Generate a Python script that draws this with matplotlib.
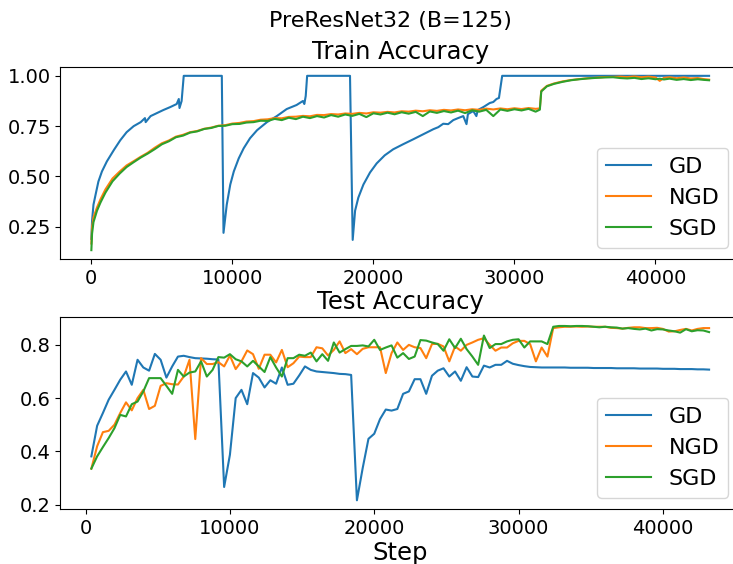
import matplotlib
matplotlib.use("Agg")
import matplotlib.pyplot as plt
import numpy as np

# ---- data ----
labels = ["GD", "NGD", "SGD"]

# train accuracy, GD (step, value)
gd_train_steps = [0, 50, 150, 300, 500, 750, 1100, 1600, 2050, 2500, 3000, 3500, 3800, 3850,
                  4200, 4650, 5100, 5600, 6050, 6200, 6250, 6400, 6550, 9250, 9370, 9600,
                  9850, 10100, 10450, 10800, 11250, 11750, 12450, 13150, 13850, 14550, 15000,
                  15100, 15200, 15300, 18340, 18530, 18700, 18930, 19290, 19760, 20230, 20800,
                  21400, 22100, 22830, 23540, 24250, 24600, 24950, 25300, 25660, 26000, 26370,
                  26600, 26700, 27080, 27300, 27400, 27800, 28250, 28500, 28730, 28900, 29130,
                  43800]
gd_train_acc = [0.19, 0.28, 0.36, 0.41, 0.475, 0.525, 0.575, 0.632, 0.68, 0.72, 0.75, 0.77,
                0.79, 0.77, 0.80, 0.815, 0.83, 0.845, 0.86, 0.885, 0.84, 0.875, 1.0, 1.0, 0.22,
                0.36, 0.46, 0.525, 0.59, 0.64, 0.69, 0.73, 0.77, 0.80, 0.835, 0.855, 0.875,
                0.86, 0.90, 1.0, 1.0, 0.185, 0.33, 0.395, 0.46, 0.52, 0.565, 0.605, 0.635,
                0.66, 0.685, 0.71, 0.735, 0.745, 0.762, 0.76, 0.78, 0.79, 0.80, 0.76, 0.81,
                0.825, 0.80, 0.83, 0.845, 0.865, 0.87, 0.885, 0.89, 1.0, 1.0]

# train accuracy, NGD / SGD (shared steps)
ns_train_steps = [0, 50, 150, 400, 650, 1000, 1500, 2000, 2500, 3000, 3500, 4000, 4500, 5000,
                  5500, 6000, 6500, 7000, 7500, 8000, 8500, 9000, 9500, 10000, 10500, 11000,
                  11500, 12000, 12500, 13000, 13500, 14000, 14500, 15000, 15500, 16000, 16500,
                  17000, 17500, 18000, 18500, 19000, 19500, 20000, 20500, 21000, 21500, 22000,
                  22500, 23000, 23500, 24000, 24500, 25000, 25500, 26000, 26500, 27000, 27500,
                  28000, 28500, 29000, 29500, 30000, 30500, 31000, 31500, 31800, 31900, 32300,
                  32800, 33400, 34000, 34600, 35200, 35800, 36400, 37000, 37500, 38000, 38500,
                  39000, 39500, 40000, 40300, 40600, 41000, 41500, 42000, 42500, 43000, 43400,
                  43800]
ngd_train_acc = [0.167, 0.248, 0.297, 0.346, 0.387, 0.436, 0.490, 0.524, 0.555, 0.576, 0.598,
                 0.618, 0.643, 0.665, 0.679, 0.698, 0.707, 0.720, 0.726, 0.737, 0.743, 0.752,
                 0.755, 0.763, 0.766, 0.773, 0.775, 0.782, 0.784, 0.790, 0.789, 0.796, 0.797,
                 0.801, 0.799, 0.806, 0.805, 0.810, 0.808, 0.813, 0.811, 0.816, 0.813, 0.819,
                 0.817, 0.821, 0.818, 0.824, 0.822, 0.827, 0.824, 0.829, 0.826, 0.831, 0.828,
                 0.833, 0.829, 0.834, 0.831, 0.837, 0.833, 0.838, 0.834, 0.839, 0.835, 0.840,
                 0.836, 0.838, 0.926, 0.950, 0.962, 0.972, 0.979, 0.984, 0.988, 0.991, 0.994,
                 0.995, 0.996, 0.994, 0.997, 0.993, 0.996, 0.992, 0.975, 0.990, 0.993, 0.988,
                 0.992, 0.987, 0.989, 0.984, 0.981]
sgd_train_acc = [0.134, 0.216, 0.273, 0.330, 0.371, 0.420, 0.476, 0.514, 0.547, 0.571, 0.594,
                 0.614, 0.636, 0.660, 0.675, 0.695, 0.703, 0.718, 0.724, 0.736, 0.741, 0.751,
                 0.752, 0.760, 0.761, 0.768, 0.770, 0.777, 0.776, 0.786, 0.780, 0.792, 0.785,
                 0.797, 0.790, 0.800, 0.793, 0.805, 0.797, 0.808, 0.801, 0.811, 0.795, 0.814,
                 0.808, 0.817, 0.809, 0.819, 0.812, 0.821, 0.800, 0.823, 0.816, 0.825, 0.818,
                 0.827, 0.815, 0.829, 0.822, 0.831, 0.800, 0.833, 0.826, 0.834, 0.828, 0.836,
                 0.822, 0.832, 0.922, 0.948, 0.960, 0.970, 0.978, 0.983, 0.987, 0.990, 0.992,
                 0.993, 0.989, 0.987, 0.990, 0.984, 0.988, 0.983, 0.986, 0.982, 0.986, 0.980,
                 0.984, 0.979, 0.983, 0.980, 0.978]

# test accuracy, one point per epoch (400 steps)
epochs = np.arange(1, 109)
test_steps = epochs * 400
gd_test_acc = [0.381, 0.496, 0.544, 0.594, 0.631, 0.669, 0.700, 0.650, 0.744, 0.715, 0.703, 0.766,
               0.744, 0.677, 0.719, 0.756, 0.759, 0.754, 0.750, 0.749, 0.748, 0.746, 0.745, 0.266,
               0.387, 0.600, 0.631, 0.577,
               0.694, 0.677, 0.640, 0.667, 0.654, 0.715, 0.650, 0.654, 0.685, 0.719, 0.706, 0.700,
               0.698, 0.696, 0.694, 0.691, 0.690, 0.687, 0.216, 0.337, 0.447, 0.466, 0.521, 0.557,
               0.553, 0.559, 0.616, 0.625,
               0.671, 0.671, 0.616, 0.684, 0.703, 0.712, 0.681, 0.700, 0.665, 0.716, 0.681, 0.679,
               0.722, 0.715, 0.725, 0.725, 0.740, 0.729, 0.724, 0.720, 0.717, 0.716, 0.715, 0.715,
               0.715, 0.715, 0.715,
               0.714, 0.714, 0.714, 0.714, 0.713, 0.713, 0.713, 0.713, 0.712, 0.712, 0.712, 0.712,
               0.711, 0.711, 0.711, 0.711, 0.710, 0.710, 0.710, 0.709, 0.709, 0.709, 0.708, 0.708,
               0.707]
ngd_test_acc = [0.335, 0.419, 0.472, 0.477, 0.500, 0.544, 0.584, 0.554, 0.600, 0.631, 0.559, 0.571,
                0.646, 0.656, 0.652, 0.651, 0.681, 0.744, 0.446, 0.750, 0.728, 0.728, 0.735, 0.719,
                0.760, 0.709, 0.738, 0.779,
                0.765, 0.710, 0.763, 0.763, 0.734, 0.781, 0.716, 0.731, 0.756, 0.754, 0.754, 0.791,
                0.787, 0.760, 0.781, 0.813, 0.769, 0.784, 0.765, 0.785, 0.791, 0.791, 0.791, 0.694,
                0.769, 0.809, 0.781, 0.800,
                0.791, 0.788, 0.750, 0.803, 0.804, 0.794, 0.738, 0.794, 0.778, 0.800, 0.809, 0.819,
                0.825, 0.800, 0.778, 0.790, 0.790, 0.806, 0.815, 0.815, 0.803, 0.738, 0.790, 0.756,
                0.863, 0.866, 0.868,
                0.868, 0.869, 0.868, 0.869, 0.868, 0.868, 0.868, 0.864, 0.863, 0.861, 0.864, 0.866,
                0.866, 0.863, 0.863, 0.864, 0.860, 0.850, 0.851, 0.856, 0.860, 0.854, 0.860, 0.863,
                0.863]
sgd_test_acc = [0.335, 0.381, 0.416, 0.450, 0.487, 0.537, 0.531, 0.577, 0.587, 0.625, 0.675, 0.675,
                0.675, 0.646, 0.616, 0.706, 0.681, 0.696, 0.700, 0.738, 0.681, 0.706, 0.754, 0.752,
                0.765, 0.746, 0.738, 0.719,
                0.740, 0.719, 0.698, 0.754, 0.715, 0.681, 0.750, 0.750, 0.763, 0.759, 0.771, 0.738,
                0.765, 0.740, 0.809, 0.771, 0.784, 0.796, 0.796, 0.798, 0.794, 0.819, 0.781, 0.790,
                0.798, 0.752, 0.769, 0.747,
                0.756, 0.818, 0.816, 0.809, 0.803, 0.778, 0.821, 0.788, 0.823, 0.784, 0.756, 0.725,
                0.835, 0.788, 0.803, 0.803, 0.813, 0.819, 0.821, 0.790, 0.813, 0.813, 0.813, 0.803,
                0.868, 0.871, 0.871,
                0.870, 0.871, 0.871, 0.870, 0.868, 0.866, 0.868, 0.866, 0.865, 0.861, 0.863, 0.860,
                0.858, 0.861, 0.854, 0.859, 0.858, 0.854, 0.851, 0.846, 0.859, 0.851, 0.855, 0.854,
                0.848]

# ---- figure ----
fig = plt.figure(figsize=(7.33, 5.64), dpi=100)
# axes run slightly past the right edge, like the cropped original
ax1 = fig.add_axes([0.0825, 0.541, 0.927, 0.340])
ax2 = fig.add_axes([0.0825, 0.0975, 0.927, 0.340])

ax1.plot(gd_train_steps, gd_train_acc, label=labels[0])
ax1.plot(ns_train_steps, ngd_train_acc, label=labels[1])
ax1.plot(ns_train_steps, sgd_train_acc, label=labels[2])
ax1.set_title("Train Accuracy", fontsize=17.5)

ax2.plot(test_steps, gd_test_acc, label=labels[0])
ax2.plot(test_steps, ngd_test_acc, label=labels[1])
ax2.plot(test_steps, sgd_test_acc, label=labels[2])
ax2.set_title("Test Accuracy", fontsize=17.5)
ax2.set_xlabel("Step", fontsize=17.5, labelpad=2)

for ax in (ax1, ax2):
    ax.tick_params(labelsize=14)

ax1.legend(loc="lower right", fontsize=16, bbox_to_anchor=(0.9936, 0.5608),
           bbox_transform=fig.transFigure, borderaxespad=0)
ax2.legend(loc="lower right", fontsize=16, bbox_to_anchor=(0.9936, 0.1176),
           bbox_transform=fig.transFigure, borderaxespad=0)

fig.suptitle("PreResNet32 (B=125)", fontsize=16, x=0.532, y=0.963, va="center")

fig.savefig("out.png", dpi=100)
